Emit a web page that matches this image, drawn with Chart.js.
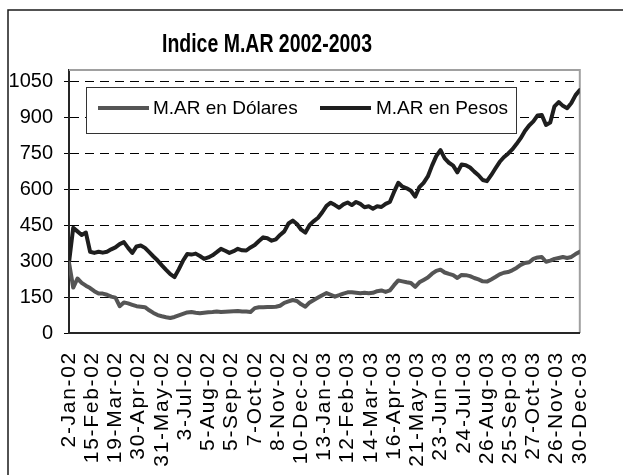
<!DOCTYPE html>
<html>
<head>
<meta charset="utf-8">
<script src="https://cdn.jsdelivr.net/npm/chart.js@4.4.1/dist/chart.umd.min.js"></script>
<style>
  html, body { margin: 0; padding: 0; background: #fff; }
</style>
</head>
<body>
<canvas id="chart" width="623" height="475"></canvas>
<script>
const title = "Indice M.AR 2002-2003";

// one x label every 22 trading days
const tickLabels = [
  "2-Jan-02", "15-Feb-02", "19-Mar-02", "30-Apr-02", "31-May-02", "3-Jul-02",
  "5-Aug-02", "5-Sep-02", "7-Oct-02", "8-Nov-02", "10-Dec-02", "13-Jan-03",
  "12-Feb-03", "14-Mar-03", "16-Apr-03", "21-May-03", "23-Jun-03", "24-Jul-03",
  "26-Aug-03", "25-Sep-03", "27-Oct-03", "26-Nov-03", "30-Dec-03"
];
const labelEvery = 22;
const sampleEvery = 4; // trading days between stored samples

const dolares = [
  295, 190, 228, 210, 198, 188, 175, 165, 165, 160,
  152, 148, 112, 128, 124, 118, 112, 110, 108, 95,
  84, 75, 70, 66, 63, 67, 74, 80, 86, 88,
  85, 83, 85, 87, 88, 90, 88, 89, 90, 91,
  92, 90, 90, 88, 104, 108, 108, 109, 109, 110,
  114, 126, 132, 138, 134, 120, 110, 128, 138, 148,
  158, 167, 160, 152, 158, 165, 170, 170, 168, 166,
  168, 166, 168, 175, 178, 172, 178, 200, 220, 216,
  212, 209, 193, 212, 222, 232, 248, 260, 265, 253,
  247, 242, 230, 243, 242, 238, 230, 224, 216, 215,
  224, 234, 245, 252, 255, 262, 272, 285, 293, 296,
  310, 316, 318, 298, 303, 310, 314, 318, 314, 318,
  330, 340
];

const pesos = [
  295, 440, 425, 410, 420, 340, 335, 340, 336, 340,
  350, 358, 372, 380, 356, 335, 362, 366, 356, 338,
  320, 303, 283, 264, 246, 234, 266, 302, 330, 328,
  332, 322, 310, 316, 325, 338, 352, 344, 335, 342,
  352, 346, 345, 358, 368, 385, 400, 396, 386, 392,
  410, 425, 458, 470, 456, 432, 420, 452, 468, 482,
  505, 532, 545, 535, 524, 538, 546, 535, 548, 540,
  526, 530, 520, 530, 527, 540, 548, 590, 628, 612,
  605, 595, 570, 610, 628, 655, 700, 740, 765, 730,
  712, 700, 672, 705, 702, 692, 675, 660, 640, 635,
  660, 688, 715, 735, 750, 768, 790, 815, 845, 868,
  885, 910, 912, 870, 880, 948, 966, 950, 940, 962,
  995, 1016
];

const FONT = '"Liberation Sans", Arial, sans-serif';

function toPoints(values) {
  return values.map((v, i) => ({ x: i * sampleEvery, y: v }));
}

// page frame, plot outline, title and the boxed legend
const decorations = {
  id: 'decorations',
  beforeDraw(chart) {
    const ctx = chart.ctx;
    ctx.save();
    ctx.fillStyle = '#fff';
    ctx.fillRect(0, 0, chart.width, chart.height);
    ctx.strokeStyle = '#1a1a1a';
    ctx.lineWidth = 1.5;
    ctx.beginPath();
    ctx.moveTo(8, chart.height + 5);
    ctx.lineTo(8, 10);
    ctx.lineTo(chart.width + 5, 10);
    ctx.stroke();
    ctx.restore();
  },
  beforeDatasetsDraw(chart) {
    const ctx = chart.ctx;
    const a = chart.chartArea;
    ctx.save();
    ctx.strokeStyle = '#a0a0a0';
    ctx.lineWidth = 2;
    ctx.beginPath();
    ctx.moveTo(a.left, a.top);
    ctx.lineTo(a.right, a.top);
    ctx.lineTo(a.right, a.bottom);
    ctx.stroke();

    // title, drawn slightly condensed
    ctx.font = 'bold 26px ' + FONT;
    ctx.fillStyle = '#000';
    ctx.textAlign = 'center';
    ctx.textBaseline = 'alphabetic';
    const w = ctx.measureText(title).width;
    ctx.save();
    ctx.translate(267, 52);
    ctx.scale(210 / w, 1);
    ctx.fillText(title, 0, 0);
    ctx.restore();

    // legend box
    ctx.fillStyle = '#fff';
    ctx.fillRect(86, 87, 430, 46);
    ctx.strokeStyle = '#333';
    ctx.lineWidth = 1;
    ctx.strokeRect(86.5, 87.5, 430, 46);
    const slots = [{ x: 98, tx: 153 }, { x: 320, tx: 376 }];
    ctx.font = '19px ' + FONT;
    ctx.textAlign = 'left';
    chart.data.datasets.forEach((ds, i) => {
      const s = slots[i];
      ctx.strokeStyle = ds.borderColor;
      ctx.lineWidth = 4;
      ctx.beginPath();
      ctx.moveTo(s.x, 108);
      ctx.lineTo(s.x + 51, 108);
      ctx.stroke();
      ctx.fillStyle = '#000';
      ctx.fillText(ds.label, s.tx, 114);
    });
    ctx.restore();
  },
  // the date labels are drawn after the lines (ticks.z = 1), spaced out a little
  afterDatasetsDraw(chart) {
    chart.ctx.letterSpacing = '1.7px';
  },
  afterDraw(chart) {
    chart.ctx.letterSpacing = '0px';
  }
};

new Chart(document.getElementById('chart'), {
  type: 'line',
  data: {
    datasets: [
      {
        label: 'M.AR en Dólares',
        data: toPoints(dolares),
        borderColor: '#555555',
        borderWidth: 4
      },
      {
        label: 'M.AR en Pesos',
        data: toPoints(pesos),
        borderColor: '#1e1e1e',
        borderWidth: 4
      }
    ]
  },
  options: {
    responsive: false,
    animation: false,
    layout: {
      autoPadding: false,
      padding: { top: 70, right: 10, left: 0, bottom: 0 }
    },
    elements: {
      point: { radius: 0 },
      line: { tension: 0, borderJoinStyle: 'round', borderCapStyle: 'round' }
    },
    plugins: {
      legend: { display: false },
      title: { display: false },
      tooltip: { enabled: false }
    },
    scales: {
      x: {
        type: 'linear',
        min: 0,
        max: (tickLabels.length - 1) * labelEvery,
        afterBuildTicks: (scale) => {
          scale.ticks = tickLabels.map((_, k) => ({ value: k * labelEvery }));
        },
        afterFit: (scale) => { scale.height = 142; },
        grid: { display: false, drawTicks: false },
        border: { color: '#262626', width: 2, z: 1 },
        ticks: {
          z: 1,
          autoSkip: false,
          minRotation: 90,
          maxRotation: 90,
          padding: 18,
          color: '#000',
          font: { family: FONT, size: 21 },
          callback: (v) => tickLabels[Math.round(v / labelEvery)]
        }
      },
      y: {
        min: 0,
        max: 1100,
        afterFit: (scale) => { scale.width = 69; },
        grid: {
          color: '#000',
          lineWidth: 1,
          tickLength: 5,
          tickColor: '#000',
          tickWidth: 1,
          tickBorderDash: []
        },
        border: { color: '#262626', width: 2, dash: [9, 6] },
        ticks: {
          stepSize: 150,
          includeBounds: false,
          padding: 11,
          color: '#000',
          font: { family: FONT, size: 20 },
          callback: (v) => String(v)
        }
      }
    }
  },
  plugins: [decorations]
});
</script>
</body>
</html>
